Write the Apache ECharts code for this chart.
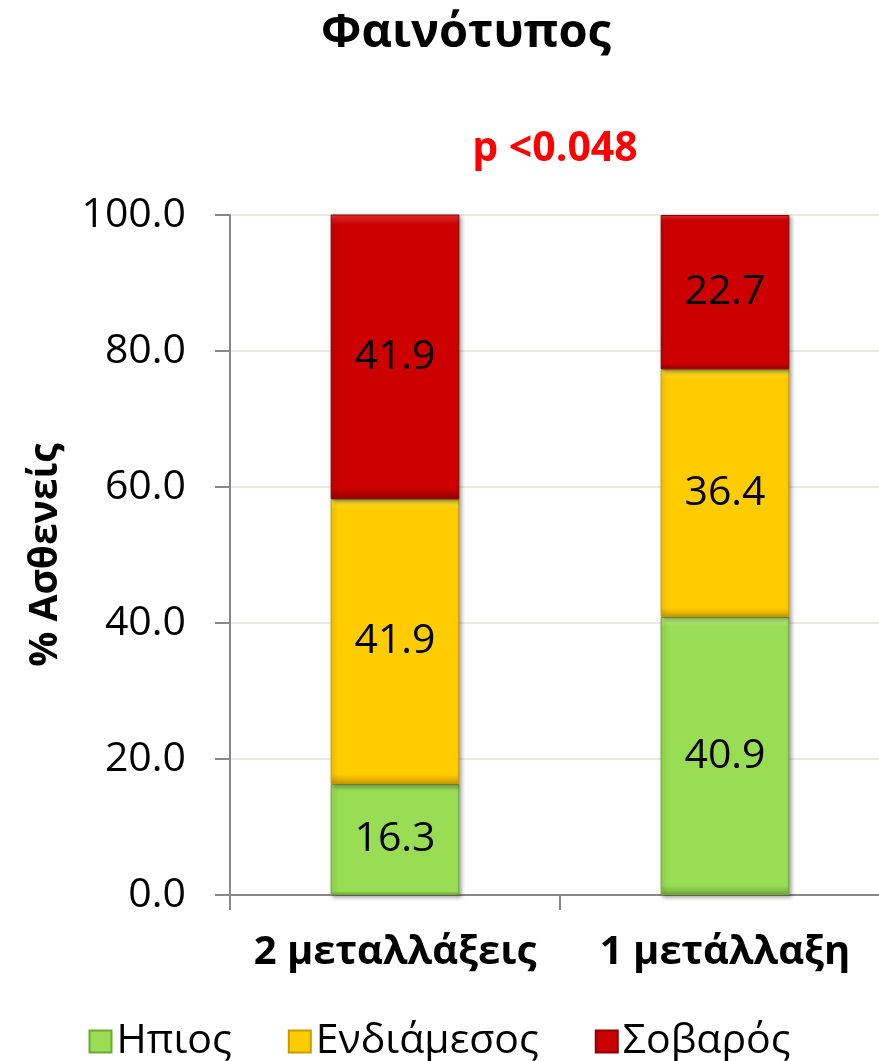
<!DOCTYPE html>
<html>
<head>
<meta charset="utf-8">
<script src="https://cdn.jsdelivr.net/npm/echarts@6/dist/echarts.min.js"></script>
<style>
  html, body { margin: 0; padding: 0; background: #fff; }
  #chart { width: 879px; height: 1061px; }
</style>
</head>
<body>
<div id="chart"></div>
<script>
// Phenotype distribution by number of mutations (% of patients)
const categories = ['2 μεταλλάξεις', '1 μετάλλαξη'];
const mildValues = [16.3, 40.9];
const intermediateValues = [41.9, 36.4];
const severeValues = [41.9, 22.7];
const seriesNames = ['Ηπιος', 'Ενδιάμεσος', 'Σοβαρός'];
const yTickLabels = ['0.0', '20.0', '40.0', '60.0', '80.0', '100.0'];

const FONT = '"Open Sans", "Noto Sans", sans-serif';

function bevel(base, light, dark) {
  return {
    color: {
      type: 'linear', x: 0, y: 0, x2: 0, y2: 1,
      colorStops: [
        { offset: 0, color: light },
        { offset: 0.035, color: base },
        { offset: 0.965, color: base },
        { offset: 1, color: dark }
      ]
    },
    borderColor: dark,
    borderWidth: 1,
    shadowColor: 'rgba(0,0,0,0.35)',
    shadowBlur: 4,
    shadowOffsetX: 2,
    shadowOffsetY: 2
  };
}

function makeSeries(name, data, style) {
  return {
    name: name,
    type: 'bar',
    stack: 'total',
    barWidth: '39%',
    data: data,
    itemStyle: style,
    label: {
      show: true,
      position: 'inside',
      color: '#000',
      fontFamily: FONT,
      fontSize: 41,
      formatter: p => p.value.toFixed(1)
    }
  };
}

const chart = echarts.init(document.getElementById('chart'), null, { renderer: 'canvas' });
chart.setOption({
  backgroundColor: '#fff',
  animation: false,
  title: [
    {
      text: 'Φαινότυπος',
      left: 461, top: 5, textAlign: 'center',
      textStyle: { fontFamily: FONT, fontSize: 47, fontWeight: 'bold', color: '#000' }
    },
    {
      text: 'p <0.048',
      left: 550, top: 124, textAlign: 'center',
      textStyle: { fontFamily: FONT, fontSize: 41, fontWeight: 'bold', color: '#ff0000' }
    }
  ],
  legend: {
    bottom: -6,
    left: 'center',
    icon: 'rect',
    itemWidth: 22,
    itemHeight: 22,
    itemGap: 56,
    textStyle: { fontFamily: FONT, fontSize: 41, color: '#000' },
    data: seriesNames
  },
  grid: {
    left: 230, width: 660, top: 215, bottom: 166,
    containLabel: false,
    outerBoundsMode: 'none'
  },
  xAxis: {
    type: 'category',
    data: categories,
    axisLine: { lineStyle: { color: '#888', width: 2 } },
    axisTick: { show: true, alignWithLabel: false, length: 15, lineStyle: { color: '#888', width: 2 } },
    axisLabel: {
      interval: 0, hideOverlap: false,
      fontFamily: FONT, fontSize: 40, fontWeight: 'bold', color: '#000', margin: 38
    }
  },
  yAxis: {
    type: 'value',
    min: 0, max: 100, interval: 20,
    name: '% Ασθενείς',
    nameLocation: 'middle',
    nameGap: 165,
    nameRotate: 90,
    nameTextStyle: { fontFamily: FONT, fontSize: 39, fontWeight: 'bold', color: '#000' },
    axisLine: { show: true, lineStyle: { color: '#888', width: 2 } },
    axisTick: { show: true, length: 15, lineStyle: { color: '#888', width: 2 } },
    axisLabel: {
      fontFamily: FONT, fontSize: 41, color: '#000', margin: 44,
      formatter: v => yTickLabels[Math.round(v / 20)]
    },
    splitLine: { lineStyle: { color: '#e6e2d4', width: 1.5 } }
  },
  series: [
    makeSeries(seriesNames[0], mildValues, bevel('#99dd55', '#c4f08a', '#6fa838')),
    makeSeries(seriesNames[1], intermediateValues, bevel('#ffcc00', '#ffee44', '#c89a00')),
    makeSeries(seriesNames[2], severeValues, bevel('#cc0000', '#ee3333', '#8e0000'))
  ]
});
</script>
</body>
</html>
